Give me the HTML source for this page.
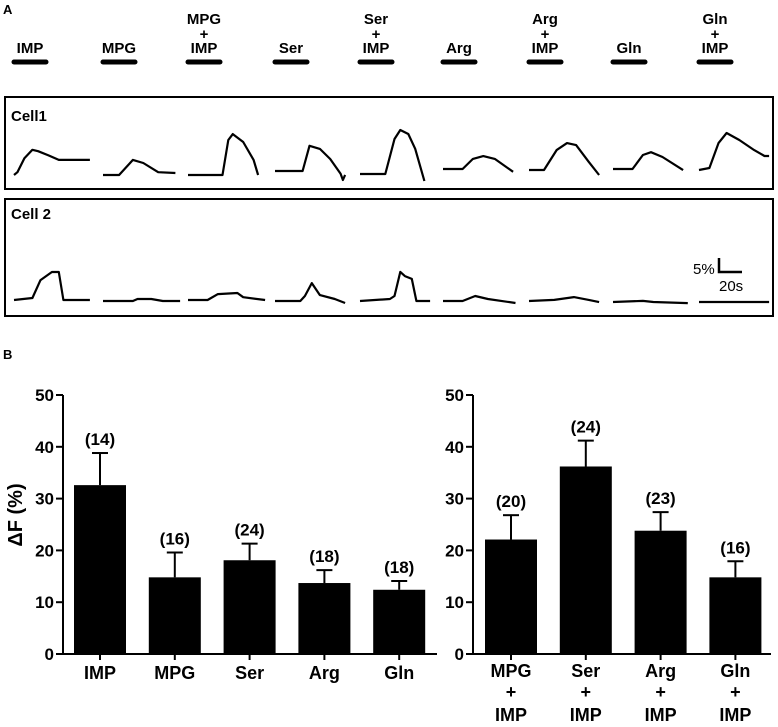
<!DOCTYPE html>
<html><head><meta charset="utf-8"><style>
body{margin:0;background:#fff;}
svg{display:block;font-family:"Liberation Sans",Arial,sans-serif;font-weight:bold;}
</style></head><body>
<svg id="fig" width="778" height="727" viewBox="0 0 778 727" xmlns="http://www.w3.org/2000/svg">
<text x="3" y="14" font-size="13">A</text>
<g id="stimuli"></g>
<rect x="5" y="97" width="768" height="92" fill="none" stroke="#000" stroke-width="2"/>
<rect x="5" y="199" width="768" height="117" fill="none" stroke="#000" stroke-width="2"/>
<text x="11" y="121" font-size="15">Cell1</text>
<text x="11" y="219" font-size="15">Cell 2</text>
<g id="traces"></g>
<g>
<text x="693" y="274" font-size="15" font-weight="normal">5%</text>
<path d="M719 258 V272 H742" fill="none" stroke="#000" stroke-width="2.5"/>
<text x="719" y="291" font-size="15" font-weight="normal">20s</text>
</g>
<text x="3" y="359" font-size="13">B</text>
<text transform="translate(22,515) rotate(-90)" text-anchor="middle" font-size="20">ΔF (%)</text>
<g id="chartL"></g>
<g id="chartR"></g>
</svg>
<script>
const NS="http://www.w3.org/2000/svg";
const stimLines=[["IMP"],["MPG"],["MPG","+","IMP"],["Ser"],["Ser","+","IMP"],["Arg"],["Arg","+","IMP"],["Gln"],["Gln","+","IMP"]];
const stimStart=[14,103,188,275,360,443,529,613,699];
const cell1=[
[[0,0],[3,1],[9,6],[16,9],[21,8.5],[30,7],[39,5.4],[66,5.4]],
[[0,0],[14,0],[26,5.4],[35,4.3],[48,1],[63,0.7]],
[[0,0],[30,0],[35,12.5],[39,14.6],[48,11.8],[57,5.4],[61,0]],
[[0,0],[24,0],[30,9],[39,7.9],[48,4.3],[57,-1],[59,-3.2],[61,-1.4]],
[[0,0],[22,0],[30,12.5],[35,15.7],[42,14.3],[48,9],[56,-2.5]],
[[0,0],[17,0],[26,3.6],[35,4.6],[45,3.6],[61,-1]],
[[0,0],[13,0],[24,7.1],[33,9.6],[41,8.9],[52,2.9],[61,-1.8]],
[[0,0],[17,0],[26,5],[33,6],[43,4.3],[61,-0.4]],
[[0,0],[9,0.7],[17,9.6],[24,13.2],[35,10.7],[48,7.1],[57,5],[61,5]]];
const cell2=[
[[0,0],[16,0.7],[23,7.1],[33,10],[39,10],[43,0],[66,0]],
[[0,0],[26,0],[30,0.7],[42,0.7],[52,0],[67,0]],
[[0,0],[17,0],[26,2.1],[43,2.5],[48,1],[67,0]],
[[0,0],[22,0],[26,1.8],[32,6.4],[39,2.1],[52,0.7],[61,-0.7]],
[[0,0],[26,0.7],[30,1.8],[35,10.4],[39,8.9],[45,7.9],[49,0],[61,0]],
[[0,0],[17,0],[28,1.8],[39,0.7],[63,-0.7]],
[[0,0],[22,0.4],[39,1.4],[52,0.4],[61,-0.4]],
[[0,0],[26,0.4],[35,0],[65,-0.4]],
[[0,0],[61,0]]];
const base1=[175,175,175,171,174,169,170,169,170];
const base2=[300,301,300,301,301,301,301,302,302];
const pxPerS=23/20, pxPerPct=14/5;

const sg=document.getElementById('stimuli');
stimLines.forEach((lines,i)=>{
  const cx=stimStart[i]+16;
  lines.forEach((t,j)=>{
    const el=document.createElementNS(NS,'text');
    
    
    el.setAttribute('x',cx);el.setAttribute('y',53-(lines.length-1-j)*14-(lines.length>1&&j==0?1:0));
    el.setAttribute('text-anchor','middle');el.setAttribute('font-size','15');
    el.textContent=t;sg.appendChild(el);
  });
  const b=document.createElementNS(NS,'line');
  
  
  b.setAttribute('x1',stimStart[i]);b.setAttribute('x2',stimStart[i]+32);
  b.setAttribute('y1',62);b.setAttribute('y2',62);
  b.setAttribute('stroke','#000');b.setAttribute('stroke-width','5');b.setAttribute('stroke-linecap','round');
  sg.appendChild(b);
});
const tg=document.getElementById('traces');
function drawTrace(pts,x0,y0,name){
  const d=pts.map((p,k)=>(k?'L':'M')+(x0+p[0]*pxPerS).toFixed(1)+' '+(y0-p[1]*pxPerPct).toFixed(1)).join(' ');
  const el=document.createElementNS(NS,'path');
  
  
  el.setAttribute('d',d);el.setAttribute('fill','none');el.setAttribute('stroke','#000');
  el.setAttribute('stroke-width','2.2');el.setAttribute('stroke-linejoin','round');
  tg.appendChild(el);
}
cell1.forEach((p,i)=>drawTrace(p,stimStart[i],base1[i],'cell1-trace'));
cell2.forEach((p,i)=>drawTrace(p,stimStart[i],base2[i],'cell2-trace'));

const catsL=[["IMP"],["MPG"],["Ser"],["Arg"],["Gln"]];
const valsL=[32.6,14.8,18.1,13.7,12.4];
const errL=[6.2,4.8,3.2,2.5,1.7];
const nL=["(14)","(16)","(24)","(18)","(18)"];
const catsR=[["MPG","+","IMP"],["Ser","+","IMP"],["Arg","+","IMP"],["Gln","+","IMP"]];
const valsR=[22.1,36.2,23.8,14.8];
const errR=[4.7,5.0,3.6,3.1];
const nR=["(20)","(24)","(23)","(16)"];
const yTicks=[0,10,20,30,40,50];

function chart(g,axX,x1,barX0,cats,vals,errs,ns){
  const y0=654,y50=395;
  const Y=v=>y0-(v/50)*(y0-y50);
  const add=(tag,attrs,name,text)=>{
    const el=document.createElementNS(NS,tag);
    for(const k in attrs)el.setAttribute(k,attrs[k]);
    
    
    if(text!==undefined)el.textContent=text;
    g.appendChild(el);return el;
  };
  add('line',{x1:axX,x2:axX,y1:Y(50),y2:y0+1,stroke:'#000','stroke-width':2},'y-axis');
  add('line',{x1:axX-1,x2:x1,y1:y0,y2:y0,stroke:'#000','stroke-width':2},'x-axis');
  yTicks.forEach(t=>{
    add('line',{x1:axX-7,x2:axX,y1:Y(t),y2:Y(t),stroke:'#000','stroke-width':2},'y-tick');
    add('text',{x:axX-9,y:Y(t)+6,'text-anchor':'end','font-size':17},'y-tick-label',String(t));
  });
  const step=74.8,bw=52;
  vals.forEach((v,i)=>{
    const x=barX0+i*step,cx=x+bw/2;
    add('line',{x1:cx,x2:cx,y1:Y(v),y2:Y(v+errs[i]),stroke:'#000','stroke-width':2},'error-bar');
    add('line',{x1:cx-8,x2:cx+8,y1:Y(v+errs[i]),y2:Y(v+errs[i]),stroke:'#000','stroke-width':2},'error-cap');
    add('rect',{x:x,y:Y(v),width:bw,height:y0-Y(v),fill:'#000'},'bar');
    add('text',{x:cx,y:Y(v+errs[i])-8,'text-anchor':'middle','font-size':17},'n-label',ns[i]);
    add('line',{x1:cx,x2:cx,y1:y0,y2:y0+6,stroke:'#000','stroke-width':2},'x-tick');
    cats[i].forEach((t,j)=>{
      const yy=cats[i].length>1?[677,698,721][j]:679;
      add('text',{x:cx,y:yy,'text-anchor':'middle','font-size':18},'x-tick-label',t);
    });
  });
}
chart(document.getElementById('chartL'),63,437,74,catsL,valsL,errL,nL);
chart(document.getElementById('chartR'),473,771,485,catsR,valsR,errR,nR);
</script>
</body></html>
